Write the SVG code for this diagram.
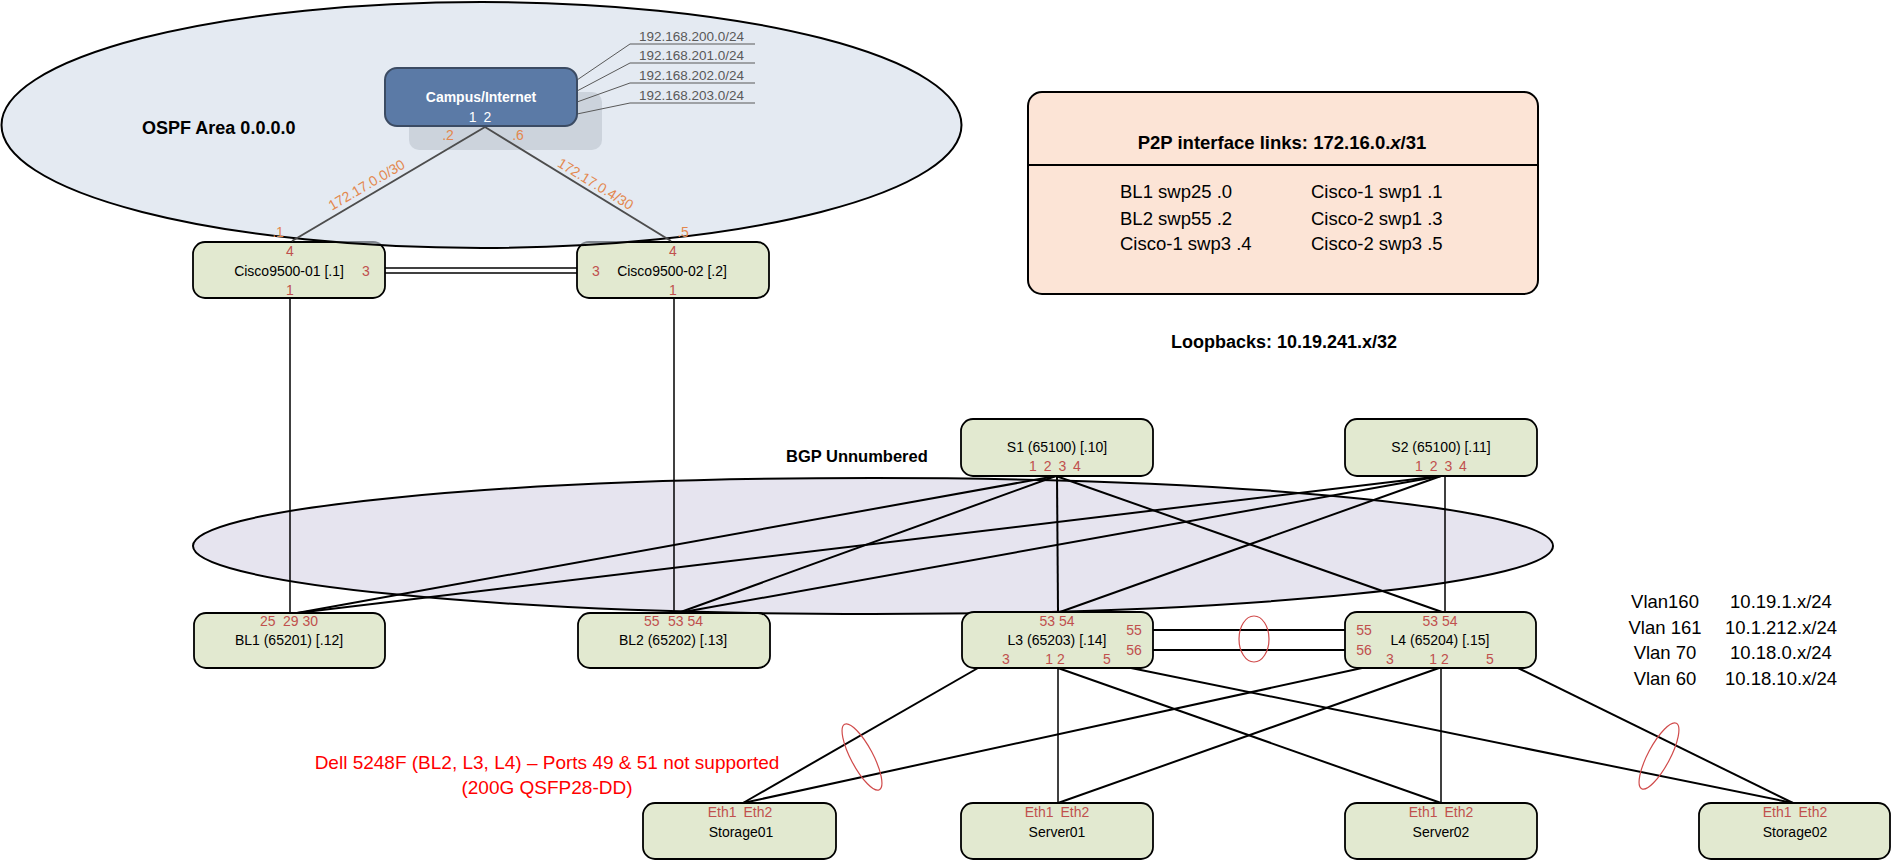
<svg xmlns="http://www.w3.org/2000/svg" width="1894" height="862" viewBox="0 0 1894 862">
<style>
text{font-family:"Liberation Sans",Arial,sans-serif}
.node{fill:#e2e9d0;stroke:#000;stroke-width:1.8}
.nm{font-size:14px;fill:#000;text-anchor:middle}
.pt{font-size:14px;fill:#c0504d;text-anchor:middle}
.ptl{font-size:14px;fill:#c0504d}
.eth{font-size:14px;fill:#c0504d;text-anchor:middle;word-spacing:3px}
.or{font-size:14px;fill:#e3874d;text-anchor:middle}
.ln{stroke:#000;stroke-width:2;fill:none}
.ln1{stroke:#000;stroke-width:1.5;fill:none}
.gl{stroke:#4d4d4d;stroke-width:2;fill:none}
.ip{stroke:#595959;stroke-width:1;fill:none}
.ipt{font-size:13.5px;fill:#595959}
.hd{font-weight:bold;fill:#000}
.big{font-size:18.5px;fill:#000}
.lag{fill:none;stroke:#d04a4a;stroke-width:1.2}
</style>

<!-- BGP area -->
<ellipse id="bgp-area" cx="873" cy="546" rx="680" ry="68" fill="#e6e4ef" stroke="#000" stroke-width="2"/>

<g id="cisco1">
<rect class="node" x="193" y="242" width="192" height="56" rx="12"/>
<text class="pt" x="290" y="256">4</text>
<text class="nm" x="289" y="276">Cisco9500-01 [.1]</text>
<text class="pt" x="366" y="276">3</text>
<text class="pt" x="290" y="295">1</text>
</g>
<g id="cisco2">
<rect class="node" x="577" y="242" width="192" height="56" rx="12"/>
<text class="pt" x="673" y="256">4</text>
<text class="pt" x="596" y="276">3</text>
<text class="nm" x="672" y="276">Cisco9500-02 [.2]</text>
<text class="pt" x="673" y="295">1</text>
</g>

<!-- OSPF area -->
<ellipse id="ospf-area" cx="481.5" cy="125" rx="480" ry="123" fill="#d2dce9" fill-opacity="0.6" stroke="#000" stroke-width="2"/>
<rect x="409" y="92" width="193" height="58" rx="10" fill="#ccd3dc"/>

<g id="connectors">
<line class="gl" x1="485" y1="127" x2="292" y2="241"/>
<line class="gl" x1="485" y1="127" x2="671" y2="241"/>
<polyline class="ip" points="577,80 630,44 755,44"/>
<polyline class="ip" points="577,91 630,63 755,63"/>
<polyline class="ip" points="577,102 630,83 755,83"/>
<polyline class="ip" points="577,114 630,103 755,103"/>
<line class="ln1" x1="385" y1="268" x2="577" y2="268"/>
<line class="ln1" x1="385" y1="273" x2="577" y2="273"/>
<line class="ln1" x1="290" y1="298" x2="290" y2="613"/>
<line class="ln1" x1="674" y1="298" x2="674" y2="613"/>
<line class="ln" x1="1056" y1="476" x2="297" y2="613"/>
<line class="ln" x1="1056" y1="476" x2="678" y2="613"/>
<line class="ln" x1="1057" y1="476" x2="1058" y2="612"/>
<line class="ln" x1="1056" y1="476" x2="1442" y2="612"/>
<line class="ln" x1="1441" y1="476" x2="297" y2="613"/>
<line class="ln" x1="1441" y1="476" x2="678" y2="613"/>
<line class="ln" x1="1441" y1="476" x2="1060" y2="612"/>
<line class="ln1" x1="1445" y1="476" x2="1445" y2="612"/>
<line class="ln" x1="1153" y1="630" x2="1345" y2="630"/>
<line class="ln" x1="1153" y1="650" x2="1345" y2="650"/>
<line class="ln" x1="978" y1="668" x2="743" y2="803"/>
<line class="ln" x1="1362" y1="668" x2="743" y2="803"/>
<line class="ln1" x1="1058" y1="668" x2="1058" y2="803"/>
<line class="ln" x1="1439" y1="668" x2="1058" y2="803"/>
<line class="ln" x1="1058" y1="668" x2="1441" y2="803"/>
<line class="ln1" x1="1441" y1="668" x2="1441" y2="803"/>
<line class="ln" x1="1131" y1="668" x2="1793" y2="803"/>
<line class="ln" x1="1518" y1="668" x2="1793" y2="803"/>
<ellipse class="lag" cx="1254" cy="639" rx="15" ry="23"/>
<ellipse class="lag" cx="862" cy="757" rx="11" ry="37" transform="rotate(-28 862 757)"/>
<ellipse class="lag" cx="1659" cy="756" rx="11" ry="37" transform="rotate(28 1659 756)"/>
</g>

<g id="campus">
<rect x="385" y="68" width="192" height="58" rx="12" fill="#5b7aa6" stroke="#3b4b63" stroke-width="2"/>
<text x="481" y="102" font-size="14" font-weight="bold" fill="#fff" text-anchor="middle">Campus/Internet</text>
<text x="480" y="122" font-size="14" fill="#fff" text-anchor="middle" word-spacing="3">1 2</text>
</g>

<g id="ip-list">
<text class="ipt" x="639" y="41">192.168.200.0/24</text>
<text class="ipt" x="639" y="60">192.168.201.0/24</text>
<text class="ipt" x="639" y="80">192.168.202.0/24</text>
<text class="ipt" x="639" y="100">192.168.203.0/24</text>
</g>

<g id="ospf-labels">
<text class="hd" x="142" y="134" font-size="18">OSPF Area 0.0.0.0</text>
<text class="or" x="448" y="140">.2</text>
<text class="or" x="518" y="140">.6</text>
<text class="or" x="369" y="189" transform="rotate(-30.4 369 189)">172.17.0.0/30</text>
<text class="or" x="593" y="188" transform="rotate(31.4 593 188)">172.17.0.4/30</text>
<text class="or" x="278" y="237">.1</text>
<text class="or" x="683" y="237">.5</text>
</g>

<g id="p2p">
<rect x="1028" y="92" width="510" height="202" rx="14" fill="#fce4d6" stroke="#000" stroke-width="2"/>
<line x1="1028" y1="165" x2="1538" y2="165" stroke="#000" stroke-width="2"/>
<text class="hd" x="1282" y="149" font-size="18.5" text-anchor="middle">P2P interface links: 172.16.0.<tspan font-style="italic">x</tspan>/31</text>
<text class="big" x="1120" y="198">BL1 swp25 .0</text>
<text class="big" x="1120" y="225">BL2 swp55 .2</text>
<text class="big" x="1120" y="250">Cisco-1 swp3 .4</text>
<text class="big" x="1311" y="198">Cisco-1 swp1 .1</text>
<text class="big" x="1311" y="225">Cisco-2 swp1 .3</text>
<text class="big" x="1311" y="250">Cisco-2 swp3 .5</text>
</g>

<text class="hd" x="1284" y="348" font-size="18" text-anchor="middle">Loopbacks: 10.19.241.x/32</text>
<text class="hd" x="786" y="462" font-size="16.5">BGP Unnumbered</text>

<g id="s1">
<rect class="node" x="961" y="419" width="192" height="57" rx="12"/>
<text class="nm" x="1057" y="452">S1 (65100) [.10]</text>
<text class="pt" x="1055" y="471" word-spacing="3">1 2 3 4</text>
</g>
<g id="s2">
<rect class="node" x="1345" y="419" width="192" height="57" rx="12"/>
<text class="nm" x="1441" y="452">S2 (65100) [.11]</text>
<text class="pt" x="1441" y="471" word-spacing="3">1 2 3 4</text>
</g>

<g id="bl1">
<rect class="node" x="194" y="613" width="191" height="55" rx="12"/>
<text class="ptl" x="260" y="626">25<tspan x="283">29 30</tspan></text>
<text class="nm" x="289" y="645">BL1 (65201) [.12]</text>
</g>
<g id="bl2">
<rect class="node" x="578" y="613" width="192" height="55" rx="12"/>
<text class="ptl" x="644" y="626">55<tspan x="668">53 54</tspan></text>
<text class="nm" x="673" y="645">BL2 (65202) [.13]</text>
</g>
<g id="l3">
<rect class="node" x="962" y="612" width="191" height="56" rx="12"/>
<text class="pt" x="1057" y="626">53 54</text>
<text class="pt" x="1134" y="635">55</text>
<text class="nm" x="1057" y="645">L3 (65203) [.14]</text>
<text class="pt" x="1134" y="655">56</text>
<text class="pt" x="1006" y="664">3</text>
<text class="pt" x="1055" y="664">1 2</text>
<text class="pt" x="1107" y="664">5</text>
</g>
<g id="l4">
<rect class="node" x="1345" y="612" width="191" height="56" rx="12"/>
<text class="pt" x="1440" y="626">53 54</text>
<text class="pt" x="1364" y="635">55</text>
<text class="nm" x="1440" y="645">L4 (65204) [.15]</text>
<text class="pt" x="1364" y="655">56</text>
<text class="pt" x="1390" y="664">3</text>
<text class="pt" x="1439" y="664">1 2</text>
<text class="pt" x="1490" y="664">5</text>
</g>

<g id="vlans">
<text class="big" x="1665" y="608" text-anchor="middle">Vlan160</text>
<text class="big" x="1781" y="608" text-anchor="middle">10.19.1.x/24</text>
<text class="big" x="1665" y="634" text-anchor="middle">Vlan 161</text>
<text class="big" x="1781" y="634" text-anchor="middle">10.1.212.x/24</text>
<text class="big" x="1665" y="659" text-anchor="middle">Vlan 70</text>
<text class="big" x="1781" y="659" text-anchor="middle">10.18.0.x/24</text>
<text class="big" x="1665" y="685" text-anchor="middle">Vlan 60</text>
<text class="big" x="1781" y="685" text-anchor="middle">10.18.10.x/24</text>
</g>

<g id="note">
<text x="547" y="769" font-size="19" fill="#ff0000" text-anchor="middle">Dell 5248F (BL2, L3, L4) – Ports 49 &amp; 51 not supported</text>
<text x="547" y="794" font-size="19" fill="#ff0000" text-anchor="middle">(200G QSFP28-DD)</text>
</g>

<g id="storage01">
<rect class="node" x="643" y="803" width="193" height="56" rx="12"/>
<text class="eth" x="740" y="817">Eth1 Eth2</text>
<text class="nm" x="741" y="837">Storage01</text>
</g>
<g id="server01">
<rect class="node" x="961" y="803" width="192" height="56" rx="12"/>
<text class="eth" x="1057" y="817">Eth1 Eth2</text>
<text class="nm" x="1057" y="837">Server01</text>
</g>
<g id="server02">
<rect class="node" x="1345" y="803" width="192" height="56" rx="12"/>
<text class="eth" x="1441" y="817">Eth1 Eth2</text>
<text class="nm" x="1441" y="837">Server02</text>
</g>
<g id="storage02">
<rect class="node" x="1699" y="803" width="191" height="56" rx="12"/>
<text class="eth" x="1795" y="817">Eth1 Eth2</text>
<text class="nm" x="1795" y="837">Storage02</text>
</g>
</svg>
